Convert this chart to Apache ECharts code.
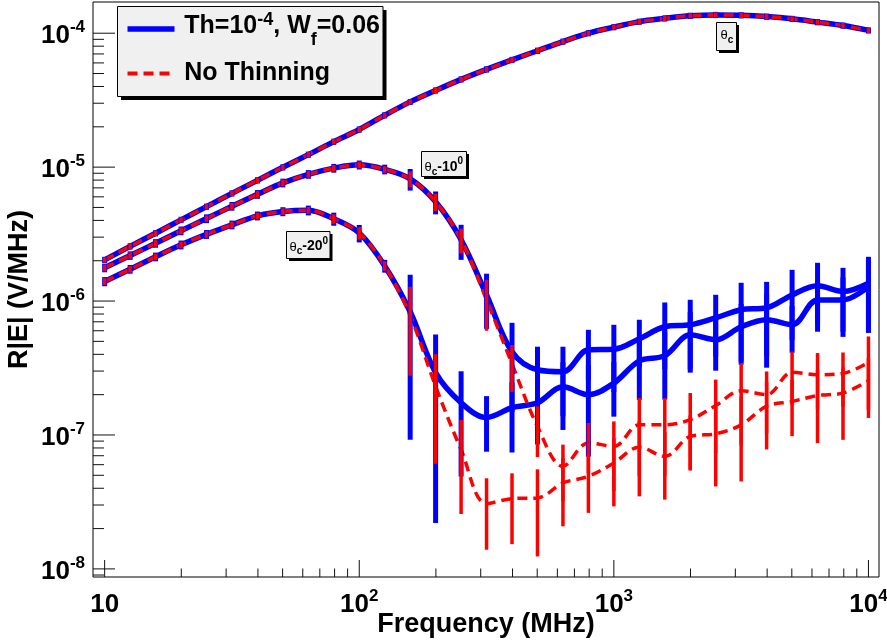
<!DOCTYPE html>
<html><head><meta charset="utf-8">
<script src="https://cdn.jsdelivr.net/npm/echarts@6/dist/echarts.min.js"></script>
<style>html,body{margin:0;padding:0;background:#fff}#c{width:887px;height:641px}</style>
</head><body><div id="c"></div>
<script>
// ---------------- data ----------------
const freqs = [10, 12.59, 15.85, 19.95, 25.12, 31.62, 39.81, 50.12, 63.10, 79.43,
  100, 125.9, 158.5, 199.5, 251.2, 316.2, 398.1, 501.2, 631.0, 794.3,
  1000, 1259, 1585, 1995, 2512, 3162, 3981, 5012, 6310, 7943, 10000];

// Th=1e-4, Wf=0.06 (blue)
const thinC = [2.03e-6, 2.56e-6, 3.21e-6, 4.04e-6, 5.07e-6, 6.37e-6, 7.97e-6, 9.97e-6, 1.24e-5, 1.55e-5,
  1.91e-5, 2.44e-5, 3.07e-5, 3.74e-5, 4.52e-5, 5.37e-5, 6.32e-5, 7.40e-5, 8.66e-5, 1.00e-4,
  1.11e-4, 1.22e-4, 1.29e-4, 1.35e-4, 1.37e-4, 1.36e-4, 1.33e-4, 1.28e-4, 1.21e-4, 1.14e-4, 1.05e-4];
const thinCErr = [1.1e-7, 1.4e-7, 1.7e-7, 2.2e-7, 2.7e-7, 3.4e-7, 4.3e-7, 5.3e-7, 6.6e-7, 8.3e-7,
  1.02e-6, 1.3e-6, 1.6e-6, 2.0e-6, 2.4e-6, 2.9e-6, 3.4e-6, 4.0e-6, 4.6e-6, 5.3e-6,
  5.9e-6, 6.5e-6, 6.9e-6, 7.2e-6, 7.3e-6, 7.2e-6, 7.1e-6, 6.8e-6, 6.5e-6, 6.1e-6, 5.6e-6];
const thinC10 = [1.77e-6, 2.19e-6, 2.70e-6, 3.35e-6, 4.13e-6, 5.11e-6, 6.27e-6, 7.63e-6, 8.84e-6, 9.83e-6,
  1.04e-5, 9.63e-6, 8.18e-6, 5.51e-6, 2.87e-6, 1.11e-6, 4.18e-7, 3.07e-7, 2.97e-7, 4.33e-7,
  4.37e-7, 5.23e-7, 6.43e-7, 6.65e-7, 7.50e-7, 8.61e-7, 8.91e-7, 1.11e-6, 1.30e-6, 1.18e-6, 1.36e-6];
const thinC10Err = [1.3e-7, 1.6e-7, 2.0e-7, 2.5e-7, 3.1e-7, 3.8e-7, 4.7e-7, 5.7e-7, 6.6e-7, 7.4e-7,
  8.0e-7, 8.0e-7, 1.5e-6, 1.07e-6, 8.4e-7, 4.9e-7, 2.7e-7, 1.49e-7, 1.59e-7, 1.77e-7,
  2.28e-7, 2.02e-7, 3.33e-7, 3.57e-7, 3.64e-7, 5.08e-7, 5.0e-7, 6.0e-7, 6.3e-7, 5.9e-7, 7.8e-7];
const thinC20 = [1.40e-6, 1.73e-6, 2.14e-6, 2.63e-6, 3.15e-6, 3.71e-6, 4.33e-6, 4.66e-6, 4.76e-6, 4.11e-6,
  3.22e-6, 1.83e-6, 8.32e-7, 2.92e-7, 1.74e-7, 1.35e-7, 1.60e-7, 1.74e-7, 2.29e-7, 2.00e-7,
  2.44e-7, 3.58e-7, 3.91e-7, 5.60e-7, 5.14e-7, 6.43e-7, 7.25e-7, 6.65e-7, 1.02e-6, 1.02e-6, 1.28e-6];
const thinC20Err = [1.1e-7, 1.3e-7, 1.6e-7, 2.0e-7, 2.4e-7, 2.8e-7, 3.3e-7, 3.6e-7, 4.0e-7, 4.6e-7,
  4.8e-7, 2.0e-7, 7.4e-7, 2.7e-7, 1.25e-7, 6.0e-8, 8.6e-8, 8.9e-8, 1.2e-7, 1.31e-7,
  1.07e-7, 1.75e-7, 2.07e-7, 2.68e-7, 2.12e-7, 3.08e-7, 4.07e-7, 2.54e-7, 4.3e-7, 4.8e-7, 7.0e-7];

// No thinning (red)
const noThinC = [2.03e-6, 2.56e-6, 3.21e-6, 4.04e-6, 5.07e-6, 6.37e-6, 7.97e-6, 9.97e-6, 1.24e-5, 1.55e-5,
  1.91e-5, 2.44e-5, 3.07e-5, 3.74e-5, 4.52e-5, 5.37e-5, 6.32e-5, 7.40e-5, 8.66e-5, 1.00e-4,
  1.11e-4, 1.22e-4, 1.29e-4, 1.35e-4, 1.37e-4, 1.36e-4, 1.33e-4, 1.28e-4, 1.21e-4, 1.14e-4, 1.05e-4];
const noThinCErr = [9.0e-8, 1.1e-7, 1.4e-7, 1.8e-7, 2.2e-7, 2.8e-7, 3.5e-7, 4.4e-7, 5.5e-7, 6.8e-7,
  8.4e-7, 1.07e-6, 1.35e-6, 1.65e-6, 2.0e-6, 2.4e-6, 2.8e-6, 3.3e-6, 3.8e-6, 4.4e-6,
  4.9e-6, 5.4e-6, 5.7e-6, 5.9e-6, 6.0e-6, 6.0e-6, 5.9e-6, 5.6e-6, 5.3e-6, 5.0e-6, 4.6e-6];
const noThinC10 = [1.77e-6, 2.19e-6, 2.70e-6, 3.35e-6, 4.13e-6, 5.11e-6, 6.27e-6, 7.63e-6, 8.84e-6, 9.83e-6,
  1.04e-5, 9.63e-6, 8.18e-6, 5.51e-6, 2.87e-6, 1.02e-6, 3.40e-7, 1.16e-7, 5.83e-8, 8.72e-8,
  8.22e-8, 1.19e-7, 1.19e-7, 1.30e-7, 1.66e-7, 2.14e-7, 2.00e-7, 2.94e-7, 2.82e-7, 2.88e-7, 3.49e-7];
const noThinC10Err = [1.0e-7, 1.2e-7, 1.5e-7, 1.9e-7, 2.3e-7, 2.9e-7, 3.5e-7, 4.3e-7, 5.0e-7, 5.5e-7,
  5.8e-7, 5.4e-7, 1.1e-6, 8.0e-7, 6.0e-7, 4.2e-7, 1.3e-7, 4.75e-8, 2.64e-8, 3.57e-8,
  4.41e-8, 6.98e-8, 6.98e-8, 7.58e-8, 9.3e-8, 1.3e-7, 9.8e-8, 1.26e-7, 1.27e-7, 1.25e-7, 1.95e-7];
const noThinC20 = [1.40e-6, 1.73e-6, 2.14e-6, 2.63e-6, 3.15e-6, 3.71e-6, 4.33e-6, 4.66e-6, 4.76e-6, 4.11e-6,
  3.22e-6, 1.83e-6, 7.77e-7, 2.31e-7, 7.77e-8, 3.07e-8, 3.35e-8, 3.39e-8, 4.38e-8, 4.91e-8,
  6.18e-8, 8.11e-8, 6.92e-8, 9.76e-8, 1.02e-7, 1.19e-7, 1.64e-7, 1.78e-7, 1.97e-7, 2.06e-7, 2.54e-7];
const noThinC20Err = [8.0e-8, 1.0e-7, 1.2e-7, 1.5e-7, 1.8e-7, 2.1e-7, 2.4e-7, 2.6e-7, 2.7e-7, 3.3e-7,
  3.4e-7, 1.5e-7, 5.0e-7, 1.7e-7, 5.2e-8, 1.68e-8, 1.82e-8, 2.15e-8, 2.3e-8, 2.29e-8,
  3.25e-8, 4.63e-8, 3.63e-8, 4.25e-8, 6.07e-8, 7.4e-8, 8.6e-8, 8.0e-8, 1.1e-7, 1.14e-7, 1.2e-7];

const xMajorTicks = [10, 100, 1000, 10000];
const yMajorTicks = [1e-8, 1e-7, 1e-6, 1e-5, 1e-4];
const minorSteps = [2, 3, 4, 5, 6, 7, 8, 9];

const legendLabels = ['Th=10', '-4', ', W', 'f', '=0.06', 'No Thinning'];
const xTitle = 'Frequency (MHz)';
const yTitle = 'R|E| (V/MHz)';

// ---------------- setup ----------------
const X_MIN = 9, X_MAX = 11000, Y_MIN = 8.7e-9, Y_MAX = 1.71e-4;
const FONT = '"Liberation Sans", Arial, Helvetica, sans-serif';
const BLUE = '#0000ff', RED = '#ff0000';

const chart = echarts.init(document.getElementById('c'), null, {renderer: 'canvas'});

function pts(vals) { return freqs.map((f, i) => [f, vals[i]]); }
function bars(vals, errs) {
  return freqs.map((f, i) => [f, Math.max(vals[i] - errs[i], Y_MIN), Math.min(vals[i] + errs[i], Y_MAX)]);
}
function lineSeries(vals, color, width, dash) {
  return {type: 'line', data: pts(vals), smooth: 0.35, showSymbol: false, symbol: 'none',
    lineStyle: {color: color, width: width, type: dash ? [10, 6] : 'solid', cap: 'butt'},
    silent: true, z: 3};
}
function barSeries(vals, errs, color, width) {
  return {type: 'custom', data: bars(vals, errs), encode: {x: 0, y: [1, 2]}, silent: true, z: 4,
    renderItem: function (params, api) {
      const x = api.value(0);
      const p1 = api.coord([x, api.value(1)]);
      const p2 = api.coord([x, api.value(2)]);
      return {type: 'line', shape: {x1: p1[0], y1: p1[1], x2: p2[0], y2: p2[1]},
        style: {stroke: color, lineWidth: width, lineCap: 'butt'}};
    }};
}

// tick data
const tickData = [];
xMajorTicks.forEach(v => tickData.push([v, Y_MIN, 17, 0]));
[10, 100, 1000].forEach(d => minorSteps.forEach(m => { const v = d * m; if (v > X_MIN && v < X_MAX) tickData.push([v, Y_MIN, 8.5, 0]); }));
yMajorTicks.forEach(v => tickData.push([X_MIN, v, 22, 1]));
[1e-9, 1e-8, 1e-7, 1e-6, 1e-5, 1e-4].forEach(d => minorSteps.forEach(m => { const v = d * m; if (v > Y_MIN && v < Y_MAX) tickData.push([X_MIN, v, 11, 1]); }));

const tickSeries = {type: 'custom', data: tickData, encode: {x: 0, y: 1}, clip: false, silent: true, z: 2,
  renderItem: function (params, api) {
    const p = api.coord([api.value(0), api.value(1)]);
    const len = api.value(2);
    const horiz = api.value(3) === 1;
    const shape = horiz ? {x1: p[0], y1: p[1], x2: p[0] + len, y2: p[1]} : {x1: p[0], y1: p[1], x2: p[0], y2: p[1] - len};
    return {type: 'line', shape: shape, style: {stroke: '#111', lineWidth: 1}};
  }};

function decadeFormatter(v) {
  const l = Math.log10(v); const r = Math.round(l);
  if (Math.abs(l - r) > 1e-6) return '';
  return r === 1 ? '{b|10}' : '{b|10}{s|' + r + '}';
}
const labelRich = {
  b: {fontSize: 26, fontWeight: 'bold', fontFamily: FONT, lineHeight: 34, color: '#000'},
  s: {fontSize: 17, fontWeight: 'bold', fontFamily: FONT, lineHeight: 18, verticalAlign: 'top', color: '#000'}
};

// text measuring for mixed super/subscript graphic texts
const mctx = document.createElement('canvas').getContext('2d');
function tw(t, size, weight) { mctx.font = weight + ' ' + size + 'px ' + FONT; return mctx.measureText(t).width; }
function textRun(x, baseY, parts) {
  const out = []; let cx = x;
  parts.forEach(p => {
    const [t, size, weight, dy] = p;
    out.push({type: 'text', x: cx, y: baseY + dy - 0.35 * size, z: 100,
      style: {text: t, fontSize: size, fontWeight: weight, fontFamily: FONT, fill: '#000', align: 'left', verticalAlign: 'middle'}});
    cx += tw(t, size, weight);
  });
  return out;
}
function boxWithShadow(x, y, w, h, sh) {
  return [
    {type: 'rect', shape: {x: x + sh, y: y + sh, width: w, height: h}, style: {fill: '#000'}, z: 90},
    {type: 'rect', shape: {x: x, y: y, width: w, height: h}, style: {fill: '#f0f0f0', stroke: '#000', lineWidth: 1}, z: 91}
  ];
}

const graphics = [].concat(
  boxWithShadow(117.5, 6.5, 265.5, 90, 3.5),
  [{type: 'line', shape: {x1: 127.5, y1: 29, x2: 174.5, y2: 29}, style: {stroke: BLUE, lineWidth: 5.5}, z: 95},
   {type: 'line', shape: {x1: 127.5, y1: 73.5, x2: 174.5, y2: 73.5}, style: {stroke: RED, lineWidth: 4, lineDash: [10, 6]}, z: 95}],
  textRun(184.3, 35, [[legendLabels[0], 25, 'bold', 0], [legendLabels[1], 18, 'bold', -8.5], [legendLabels[2], 25, 'bold', 0], [legendLabels[3], 18, 'bold', 11.5], [legendLabels[4], 25, 'bold', 0]]),
  textRun(184.3, 81.5, [[legendLabels[5], 25, 'bold', 0]]),
  // annotation boxes
  boxWithShadow(716.5, 22.5, 20, 28, 2.5),
  textRun(720.5, 40, [['θ', 13, 'normal', 0], ['c', 10, 'bold', 3.5]]),
  boxWithShadow(421.5, 151.5, 45, 25, 2.5),
  textRun(424.5, 172, [['θ', 13, 'normal', 0], ['c', 10, 'bold', 3.5], ['-10', 14, 'bold', 0], ['0', 10, 'bold', -7]]),
  boxWithShadow(286.5, 231.5, 43.5, 27, 2.5),
  textRun(289.5, 251.5, [['θ', 13, 'normal', 0], ['c', 10, 'bold', 3.5], ['-20', 14, 'bold', 0], ['0', 10, 'bold', -7]])
);

const option = {
  animation: false,
  backgroundColor: '#ffffff',
  grid: {left: 93, top: 2, width: 786, height: 575, show: true, borderColor: '#000', borderWidth: 1,
    backgroundColor: '#ffffff', containLabel: false, outerBoundsMode: 'none'},
  xAxis: {
    type: 'log', logBase: 10, min: X_MIN, max: X_MAX,
    axisLine: {show: false}, axisTick: {show: false}, splitLine: {show: false},
    axisLabel: {formatter: decadeFormatter, margin: 11, rich: labelRich, showMinLabel: true, showMaxLabel: true},
    name: xTitle, nameLocation: 'middle', nameGap: 48, nameMoveOverlap: false,
    nameTextStyle: {fontSize: 27, fontWeight: 'bold', fontFamily: FONT, color: '#000', verticalAlign: 'middle'}
  },
  yAxis: {
    type: 'log', logBase: 10, min: Y_MIN, max: Y_MAX,
    axisLine: {show: false}, axisTick: {show: false}, splitLine: {show: false},
    axisLabel: {formatter: decadeFormatter, margin: 8, rich: labelRich, padding: [5, 0, 0, 0]},
    name: yTitle, nameLocation: 'middle', nameGap: 73, nameMoveOverlap: false,
    nameTextStyle: {fontSize: 27, fontWeight: 'bold', fontFamily: FONT, color: '#000', verticalAlign: 'middle'}
  },
  series: [
    tickSeries,
    lineSeries(thinC, BLUE, 5.5, false),
    lineSeries(thinC10, BLUE, 5.5, false),
    lineSeries(thinC20, BLUE, 5.5, false),
    barSeries(thinC, thinCErr, BLUE, 5),
    barSeries(thinC10, thinC10Err, BLUE, 5),
    barSeries(thinC20, thinC20Err, BLUE, 5),
    lineSeries(noThinC, RED, 3.5, true),
    lineSeries(noThinC10, RED, 3.5, true),
    lineSeries(noThinC20, RED, 3.5, true),
    barSeries(noThinC, noThinCErr, RED, 3.5),
    barSeries(noThinC10, noThinC10Err, RED, 3.5),
    barSeries(noThinC20, noThinC20Err, RED, 3.5)
  ],
  graphic: graphics
};
chart.setOption(option);
</script></body></html>
